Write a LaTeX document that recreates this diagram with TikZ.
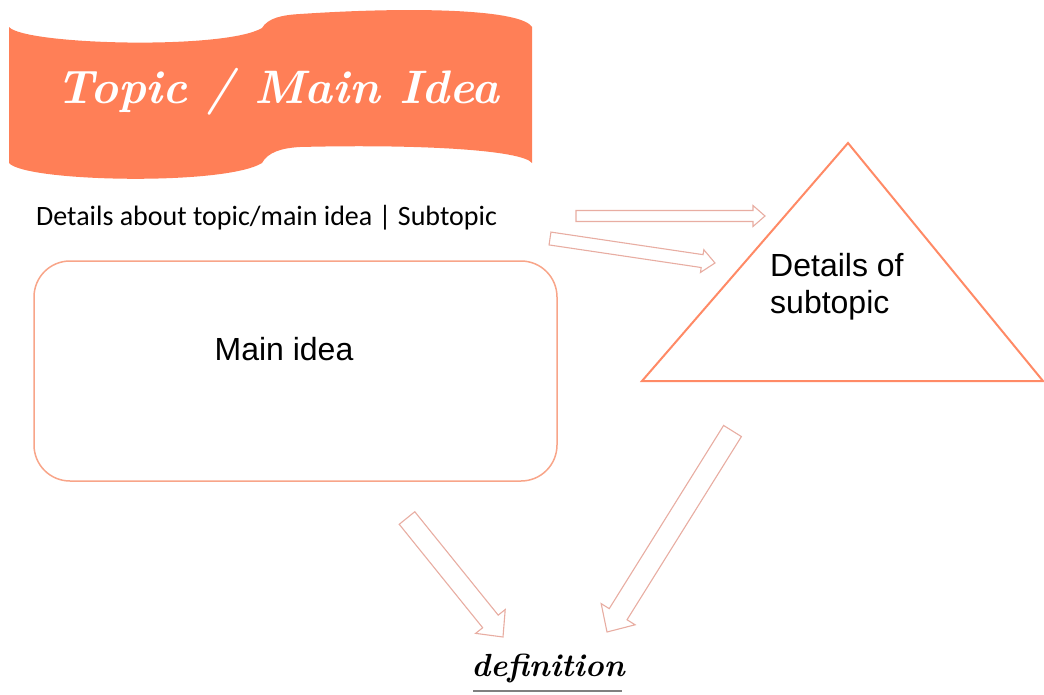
\documentclass[tikz,border=0pt]{standalone}
\usepackage{fontspec}
\usetikzlibrary{calc}
\newfontfamily\arialf{Liberation Sans}
\newfontfamily\handf{Carlito}
\definecolor{coral}{HTML}{FF7F57}
\definecolor{triedge}{HTML}{FF8A66}
\definecolor{rectedge}{HTML}{F8A589}
\definecolor{arredge}{HTML}{E8ADA2}
\tikzset{
  blockarrow/.style={draw=arredge, line width=1.1pt, fill=white, line join=miter},
  bodytext/.style={font=\arialf\fontsize{32}{37}\selectfont, text=black, inner sep=0pt},
}
% #1 start, #2 end, #3 shaft half width, #4 head half width, #5 head length
\newcommand\blockarr[5]{%
  \draw[blockarrow] let \p1=($(#2)-(#1)$), \n1={atan2(\y1,\x1)}, \n2={veclen(\x1,\y1)} in
    [shift={(#1)}, rotate=\n1] (0,-#3) -- (\n2-#5,-#3) -- (\n2-#5,-#4) -- (\n2,0) -- (\n2-#5,#4) -- (\n2-#5,#3) -- (0,#3) -- cycle;}
\begin{document}
\begin{tikzpicture}[x=1pt,y=-1pt]
\useasboundingbox (0,0) rectangle (1044,694);
% banner
\fill[coral] (9,27) .. controls (25,45) and (225,50) .. (262,28)
  .. controls (268,18) and (282,15) .. (300,14)
  .. controls (420,6) and (522,10) .. (532,27)
  -- (532,163)
  .. controls (522,150) and (420,144) .. (300,147)
  .. controls (282,148) and (268,152) .. (262,163)
  .. controls (225,186) and (25,182) .. (9,163) -- cycle;
\node[font=\itshape\bfseries\fontsize{47}{54}\selectfont, text=white, inner sep=0pt] (title) at (278,92) {Topic / Main Idea};
% subtitle
\node[font=\handf\fontsize{28}{30}\selectfont, anchor=west, inner sep=0pt] (details) at (36,218) {Details about topic/main idea | Subtopic};
% main idea box
\node[draw=rectedge, line width=1.5pt, rounded corners=36pt, minimum width=523pt, minimum height=220pt] (box) at (295.5,371) {};
\node[bodytext] (mainidea) at (284,349) {Main idea};
% triangle
\coordinate (apex) at (848,143);
\coordinate (bl) at (642,381);
\coordinate (br) at (1043,381);
\draw[triedge, line width=2pt, line join=miter] (apex) -- (br) -- (bl) -- cycle;
\node[bodytext, align=left, anchor=north west] (subt) at (770,253) {Details of\\subtopic};
% definition
\node[font=\itshape\bfseries\fontsize{32}{40}\selectfont, inner sep=0pt] (def) at (548,668) {definition};
\draw[gray, line width=1.5pt] (473,691) -- (622,691);
% arrows
\coordinate (a1s) at (576,216);
\coordinate (a1e) at (765,216);
\coordinate (a2s) at (550,238.5);
\coordinate (a2e) at (715,263);
\coordinate (a3s) at (407,518);
\coordinate (a3e) at (503,637);
\coordinate (a4s) at (732.5,431);
\coordinate (a4e) at (607,632);
\blockarr{a1s}{a1e}{5.5}{10.5}{12}
\blockarr{a2s}{a2e}{6.5}{11.5}{13}
\blockarr{a3s}{a3e}{10}{19}{20}
\blockarr{a4s}{a4e}{10.5}{20}{21}
\end{tikzpicture}
\end{document}
